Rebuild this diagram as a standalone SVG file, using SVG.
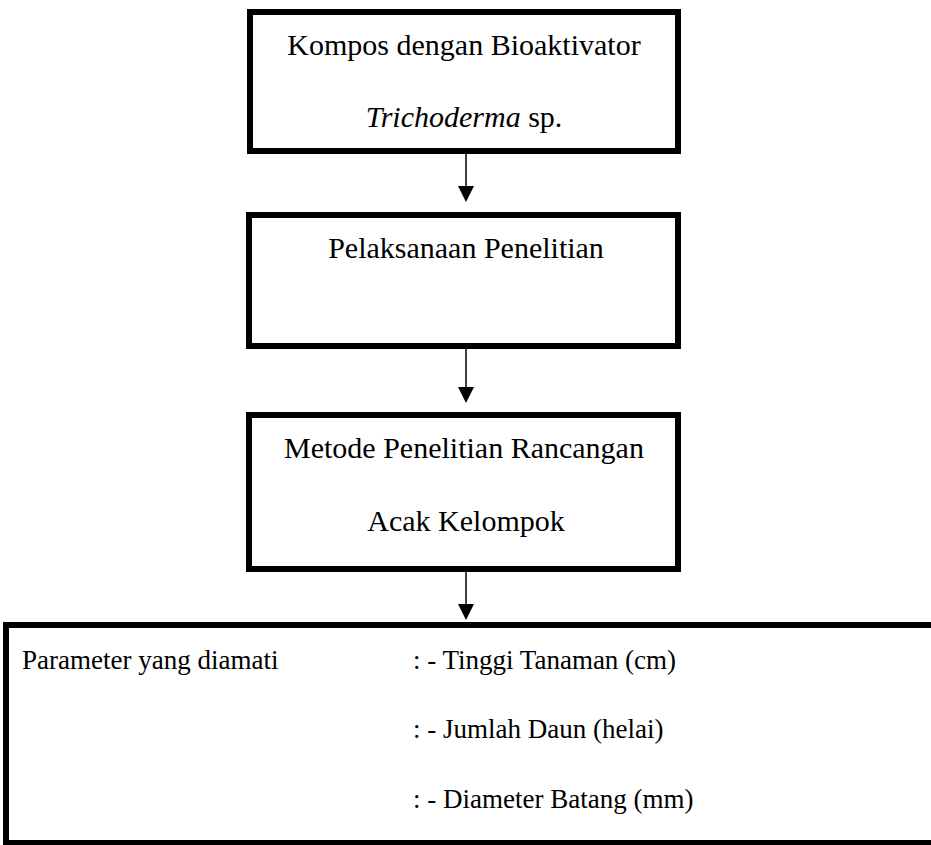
<svg xmlns="http://www.w3.org/2000/svg" width="931" height="845" viewBox="0 0 931 845">
<defs>
<style>
.box{fill:#fff;stroke:#000;stroke-width:6}
.t{font-family:"Liberation Serif","Times New Roman",serif;font-size:30px;fill:#000}
.b{font-family:"Liberation Serif","Times New Roman",serif;font-size:27px;fill:#000}
.c{stroke:#000;stroke-width:1.5;fill:none}
.h{fill:#000}
</style>
</defs>
<rect width="931" height="845" fill="#fff"/>
<g id="connectors">
<line class="c" x1="466" y1="154" x2="466" y2="188"/>
<polygon class="h" points="458,186 474,186 466,202"/>
<line class="c" x1="466" y1="349" x2="466" y2="389"/>
<polygon class="h" points="458,387 474,387 466,403"/>
<line class="c" x1="466" y1="572" x2="466" y2="606"/>
<polygon class="h" points="458,604 474,604 466,620"/>
</g>
<g id="node1">
<rect class="box" x="250" y="12" width="428" height="139"/>
<text class="t" x="464" y="55" text-anchor="middle">Kompos dengan Bioaktivator</text>
<text class="t" x="464" y="127" text-anchor="middle"><tspan font-style="italic">Trichoderma</tspan> sp.</text>
</g>
<g id="node2">
<rect class="box" x="249" y="215" width="429" height="131"/>
<text class="t" x="466" y="258" text-anchor="middle">Pelaksanaan Penelitian</text>
</g>
<g id="node3">
<rect class="box" x="249" y="415" width="429" height="154"/>
<text class="t" x="464" y="458" text-anchor="middle">Metode Penelitian Rancangan</text>
<text class="t" x="466" y="531" text-anchor="middle">Acak Kelompok</text>
</g>
<g id="node4">
<rect class="box" x="6" y="625" width="940" height="218"/>
<text class="b" x="22" y="669">Parameter yang diamati</text>
<text class="b" x="413" y="669">: - Tinggi Tanaman (cm)</text>
<text class="b" x="413" y="738">: - Jumlah Daun (helai)</text>
<text class="b" x="413" y="808">: - Diameter Batang (mm)</text>
</g>
</svg>
